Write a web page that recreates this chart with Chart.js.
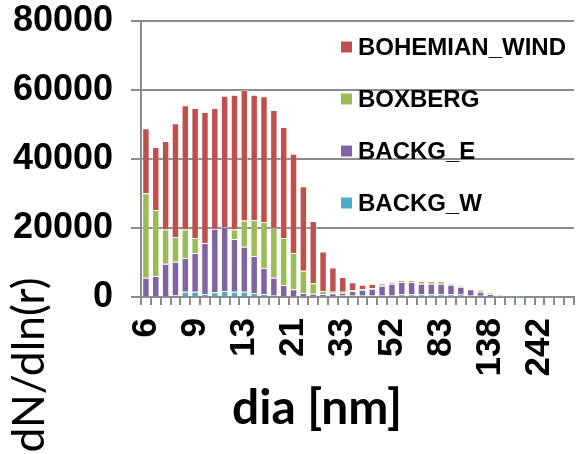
<!DOCTYPE html>
<html>
<head>
<meta charset="utf-8">
<script src="https://cdn.jsdelivr.net/npm/chart.js@4/dist/chart.umd.min.js"></script>
<style>
html,body{margin:0;padding:0;background:#fff;}
#wrap{width:577px;height:454px;}
</style>
</head>
<body>
<div id="wrap"><canvas id="c" width="577" height="454"></canvas></div>
<script>
// Diameter bins [nm] (categories); only every 5th is labelled on the axis
const categories = [6,7,7,8,8, 9,10,10,11,12, 13,14,16,17,19, 21,23,25,27,30,
  33,36,40,43,47, 52,57,63,69,76, 83,91,100,112,124, 138,154,172,193,216, 242,270,302,338];
const labelEvery = 5;

const seriesNames = ['BACKG_W','BACKG_E','BOXBERG','BOHEMIAN_WIND'];

const backgW = [0,0,0,500,1540,1540,800,1360,1740,1540, 1500,1160,870,580,300,200,100,80,80,100,
  580,580,580,580,600,600,780,780,780,780, 780,780,700,580,380,300,100,50,20,0, 0,0,0,0];
const backgE = [5600,6090,9650,9740,9760,11210,14850,18440,18550,15260, 13100,10740,7530,5020,3180,2030,1060,880,790,970,
  670,1160,1540,1830,2680,3260,3570,3570,3080,3080, 3080,2790,2290,1650,1160,570,200,50,20,0, 0,0,0,0];
const boxberg = [24460,19110,9950,7160,8300,4350,0,0,0,2800, 7600,10400,13340,14400,13620,10520,6460,3010,870,470,
  300,200,100,100,200,490,580,580,780,780, 780,290,290,380,490,290,200,30,0,0, 0,0,0,0];
const bohemian = [18840,18280,25600,32940,35960,37680,37950,34980,38060,39050, 37800,36350,36430,34200,32200,28750,24480,18060,11460,7010,
  4250,2320,1350,1260,290,0,0,0,0,0, 0,0,0,0,0,0,0,0,0,0, 0,0,0,0];

const yTicks = [0,20000,40000,60000,80000];
const xTitle = 'dia [nm]';
const yTitle = 'dN/dln(r)';

const colors = ['#4BACC6','#8064A2','#9BBB59','#C0504D'];
const values = [backgW, backgE, boxberg, bohemian];

const gridColor = '#8c8c8c';

const datasets = seriesNames.map((n,i)=>({
  label:n, data:values[i], backgroundColor:colors[i],
  borderColor:'rgba(255,255,255,0.35)', borderWidth:1,
  barPercentage:0.76, categoryPercentage:1.0
}));

const overlay = {
  id:'overlay',
  afterDraw(chart){
    const ctx = chart.ctx;
    const ca = chart.chartArea;
    ctx.save();
    // legend (reverse order, top = last series)
    ctx.font = 'bold 24px "Liberation Sans", Arial, sans-serif';
    ctx.textBaseline = 'middle';
    ctx.textAlign = 'left';
    const n = chart.data.datasets.length;
    for(let k=0;k<n;k++){
      const ds = chart.data.datasets[n-1-k];
      const cy = ca.top + 26 + k*52;
      ctx.fillStyle = ds.backgroundColor;
      ctx.fillRect(341, cy-5.5, 11, 11);
      ctx.fillStyle = '#000';
      ctx.fillText(ds.label, 358, cy+1);
    }
    // x title
    ctx.font = 'bold 40px Lato, "Open Sans", sans-serif';
    let w = ctx.measureText(xTitle).width;
    let fs = 40*170/w;
    ctx.font = 'bold '+fs.toFixed(1)+'px Lato, "Open Sans", sans-serif';
    ctx.textAlign='center'; ctx.textBaseline='alphabetic';
    ctx.fillStyle='#000';
    ctx.fillText(xTitle, 317, 424);
    // y title
    ctx.font = '40px Lato, "Open Sans", sans-serif';
    w = ctx.measureText(yTitle).width;
    fs = 40*175/w;
    ctx.font = fs.toFixed(1)+'px Lato, "Open Sans", sans-serif';
    ctx.translate(44, 365);
    ctx.rotate(-Math.PI/2);
    ctx.textAlign='center';
    ctx.fillText(yTitle, 0, 0);
    ctx.restore();
  }
};

new Chart(document.getElementById('c'), {
  type:'bar',
  data:{ labels:categories, datasets },
  plugins:[overlay],
  options:{
    responsive:false,
    animation:false,
    layout:{ padding:{ top:21, right:3, left:0, bottom:0 } },
    plugins:{ legend:{display:false}, tooltip:{enabled:false} },
    scales:{
      x:{
        stacked:true,
        offset:true,
        grid:{ display:true, offset:true, drawOnChartArea:false, drawTicks:true, tickLength:8, color:gridColor, lineWidth:2 },
        border:{ display:true, color:gridColor, width:2 },
        ticks:{
          autoSkip:false, maxRotation:90, minRotation:90, padding:13,
          color:'#000',
          font:{ family:'"Liberation Sans", Arial, sans-serif', size:35, weight:'bold' },
          callback:function(v,i){ return i%labelEvery===0 ? String(categories[i]) : ''; }
        },
        afterFit:function(s){ s.height = 157; s.paddingLeft = 0; s.paddingRight = 0; }
      },
      y:{
        stacked:true,
        min:0, max:80000,
        afterBuildTicks:function(s){ s.ticks = yTicks.map(v=>({value:v})); },
        grid:{ color:gridColor, lineWidth:2, tickLength:10, drawTicks:true },
        border:{ display:true, color:gridColor, width:2 },
        ticks:{
          padding:18, color:'#000',
          font:{ family:'"Liberation Sans", Arial, sans-serif', size:36, weight:'bold' },
          callback:function(v){ return String(v); }
        },
        afterFit:function(s){ s.width = 141; s.paddingTop = 0; s.paddingBottom = 0; }
      }
    }
  }
});
</script>
</body>
</html>
